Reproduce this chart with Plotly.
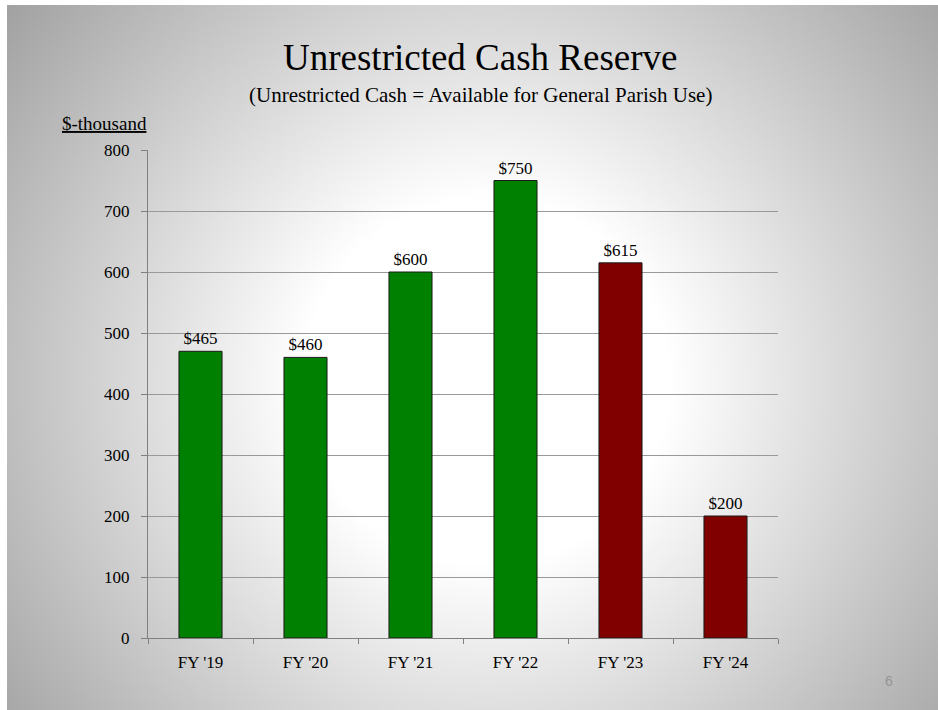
import base64, struct, zlib
import numpy as np
import plotly.graph_objects as go

categories = ["FY '19", "FY '20", "FY '21", "FY '22", "FY '23", "FY '24"]
values = [470, 460, 600, 750, 615, 200]
labels = ["$465", "$460", "$600", "$750", "$615", "$200"]
colors = ["#008000", "#008000", "#008000", "#008000", "#800000", "#800000"]
y_ticks = [0, 100, 200, 300, 400, 500, 600, 700, 800]

SERIF = "Liberation Serif"

W, H = 938, 710
L, R, T, B = 148, 160, 150, 72
pw, ph = W - L - R, H - T - B

# radial gradient background image (grayscale PNG), half resolution of slide area
SX0, SY0 = 7, 5
gw, gh = (W - SX0) // 2, (H - SY0) // 2
yy, xx = np.mgrid[0:gh, 0:gw]
px = SX0 + xx * 2.0
py = SY0 + yy * 2.0
d = np.sqrt((px - 485) ** 2 + (py - 380) ** 2)
drop = 0.22 * np.clip(d - 185, 0, None)
v = 255 - drop
img = np.clip(v, 0, 255).astype(np.uint8)
raw = b"".join(b"\x00" + img[r].tobytes() for r in range(gh))
def chunk(t, data):
    c = struct.pack(">I", len(data)) + t + data
    return c + struct.pack(">I", zlib.crc32(t + data) & 0xffffffff)
png = b"\x89PNG\r\n\x1a\n" + chunk(b"IHDR", struct.pack(">IIBBBBB", gw, gh, 8, 0, 0, 0, 0)) \
    + chunk(b"IDAT", zlib.compress(raw, 9)) + chunk(b"IEND", b"")
src = "data:image/png;base64," + base64.b64encode(png).decode()

fig = go.Figure()
fig.add_trace(go.Bar(
    x=categories, y=values, width=0.41,
    marker=dict(color=colors, line=dict(color="#1a1a1a", width=1)),
    text=labels, textposition="outside", cliponaxis=False,
    textfont=dict(family=SERIF, size=17, color="#000000"),
))

fig.add_layout_image(dict(
    source=src, xref="paper", yref="paper",
    x=(SX0 - L) / pw, y=(H - B - SY0) / ph, sizex=(W - SX0) / pw, sizey=(H - SY0) / ph,
    xanchor="left", yanchor="top", sizing="stretch", layer="below",
))

fig.update_layout(
    width=W, height=H,
    margin=dict(l=L, r=R, t=T, b=B),
    paper_bgcolor="#ffffff", plot_bgcolor="rgba(0,0,0,0)",
    showlegend=False,
    font=dict(family=SERIF, color="#000000"),
    xaxis=dict(
        range=[-0.5, 5.5], showgrid=False, showline=True, linecolor="#808080", linewidth=1,
        ticks="outside", tickson="boundaries", ticklen=5, tickcolor="#808080",
        ticklabelstandoff=9,
        tickfont=dict(family=SERIF, size=17, color="#000000"),
    ),
    yaxis=dict(
        range=[0, 800], tickvals=y_ticks, showgrid=True, gridcolor="#999999", gridwidth=1,
        showline=True, linecolor="#808080", linewidth=1, zeroline=False,
        ticks="outside", ticklen=6, tickcolor="#808080",
        ticklabelstandoff=8,
        tickfont=dict(family=SERIF, size=17, color="#000000"),
    ),
    annotations=[
        dict(text="Unrestricted Cash Reserve", xref="paper", yref="paper",
             x=(480 - L) / pw, y=(H - B - 58) / ph, xanchor="center", yanchor="middle",
             showarrow=False, font=dict(family=SERIF, size=37, color="#000000")),
        dict(text="(Unrestricted Cash = Available for General Parish Use)", xref="paper", yref="paper",
             x=(480 - L) / pw, y=(H - B - 95) / ph, xanchor="center", yanchor="middle",
             showarrow=False, font=dict(family=SERIF, size=21, color="#000000")),
        dict(text="<u>$-thousand</u>", xref="paper", yref="paper",
             x=(60 - L) / pw, y=(H - B - 123) / ph, xanchor="left", yanchor="middle",
             showarrow=False, font=dict(family=SERIF, size=19, color="#000000")),
        dict(text="6", xref="paper", yref="paper",
             x=(889 - L) / pw, y=(H - B - 681) / ph, xanchor="center", yanchor="middle",
             showarrow=False, font=dict(family="Liberation Sans", size=14, color="#959595")),
    ],
)

fig.write_html("out.html")
